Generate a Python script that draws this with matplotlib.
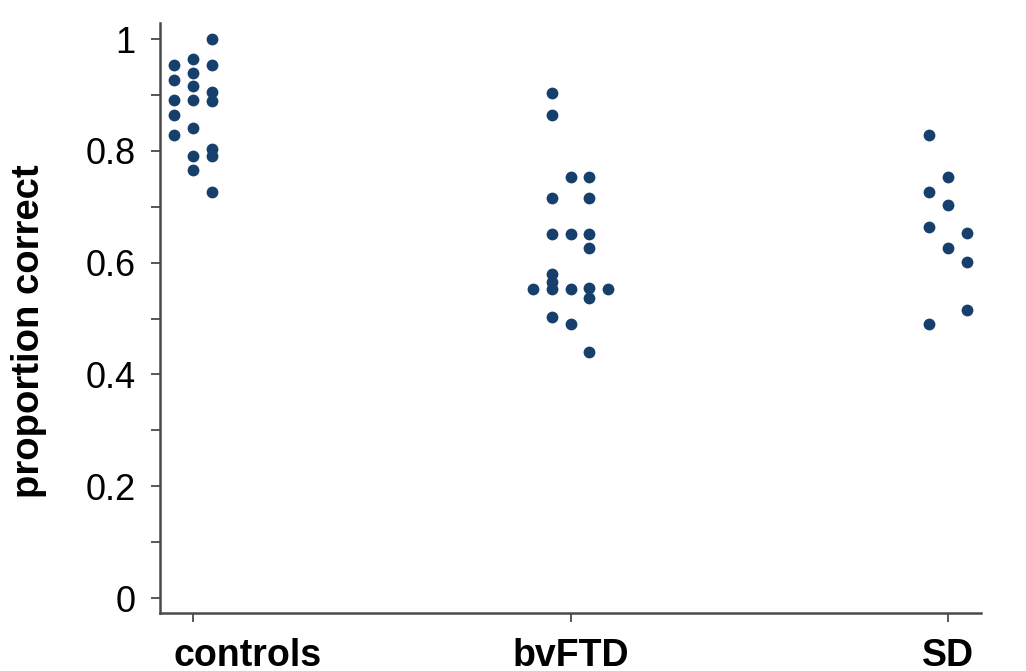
import numpy as np
import matplotlib
matplotlib.use("Agg")
import matplotlib.pyplot as plt
import matplotlib.transforms as mtransforms

plt.rcParams["font.family"] = ["Liberation Sans", "DejaVu Sans"]

groups = ["controls", "bvFTD", "SD"]

# proportion correct per participant, with the swarm column each dot sits in
controls_vals = [0.953, 0.927, 0.891, 0.864, 0.828,
                 0.965, 0.940, 0.916, 0.891, 0.841, 0.791, 0.766,
                 1.000, 0.953, 0.906, 0.889, 0.804, 0.791, 0.727]
controls_cols = [-1, -1, -1, -1, -1,
                 0, 0, 0, 0, 0, 0, 0,
                 1, 1, 1, 1, 1, 1, 1]

bvftd_vals = [0.552,
              0.903, 0.864, 0.716, 0.652, 0.580, 0.566, 0.552, 0.502,
              0.753, 0.652, 0.552, 0.490,
              0.753, 0.716, 0.652, 0.627, 0.554, 0.536, 0.441,
              0.552]
bvftd_cols = [-2,
              -1, -1, -1, -1, -1, -1, -1, -1,
              0, 0, 0, 0,
              1, 1, 1, 1, 1, 1, 1,
              2]

sd_vals = [0.828, 0.727, 0.664, 0.490,
           0.753, 0.703, 0.627,
           0.653, 0.602, 0.515]
sd_cols = [-1, -1, -1, -1,
           0, 0, 0,
           1, 1, 1]

all_vals = [controls_vals, bvftd_vals, sd_vals]
all_cols = [controls_cols, bvftd_cols, sd_cols]

dot_color = "#173f6c"
axis_color = "#4a4a4a"
col_step = 0.05

fig = plt.figure(figsize=(10.26, 6.71), dpi=100)
ax = fig.add_axes([0.156, 0.0864, 0.8, 0.8793])

for i, (vals, cols) in enumerate(zip(all_vals, all_cols)):
    x = i + np.array(cols) * col_step
    ax.plot(x, vals, "o", color=dot_color, markersize=8.5, markeredgewidth=0)

ax.set_xlim(-0.0874, 2.087)
ax.set_ylim(-0.0268, 1.0286)

ax.set_xticks(range(len(groups)))
ax.set_xticklabels(groups, fontsize=27, fontweight="bold")
ax.set_yticks([0, 0.2, 0.4, 0.6, 0.8, 1.0])
ax.set_yticklabels(["0", "0.2", "0.4", "0.6", "0.8", "1"], fontsize=26)
ax.set_yticks([0.1, 0.3, 0.5, 0.7, 0.9], minor=True)

ax.tick_params(axis="both", which="both", direction="out", length=6.5,
               width=1.3, color=axis_color)
ax.tick_params(axis="y", which="major", pad=11)
ax.tick_params(axis="x", which="major", pad=11.5)

# the "controls" label sits to the right of its tick in the original
shift = mtransforms.ScaledTranslation(0.55, 0, fig.dpi_scale_trans)
first = ax.get_xticklabels()[0]
first.set_transform(first.get_transform() + shift)

for side in ["top", "right"]:
    ax.spines[side].set_visible(False)
for side in ["left", "bottom"]:
    ax.spines[side].set_color(axis_color)
    ax.spines[side].set_linewidth(1.8)

ax.set_ylabel("proportion correct", fontsize=27.5, fontweight="bold")
ax.yaxis.set_label_coords(-0.138, 0.478)

fig.savefig("out.png", dpi=100)
